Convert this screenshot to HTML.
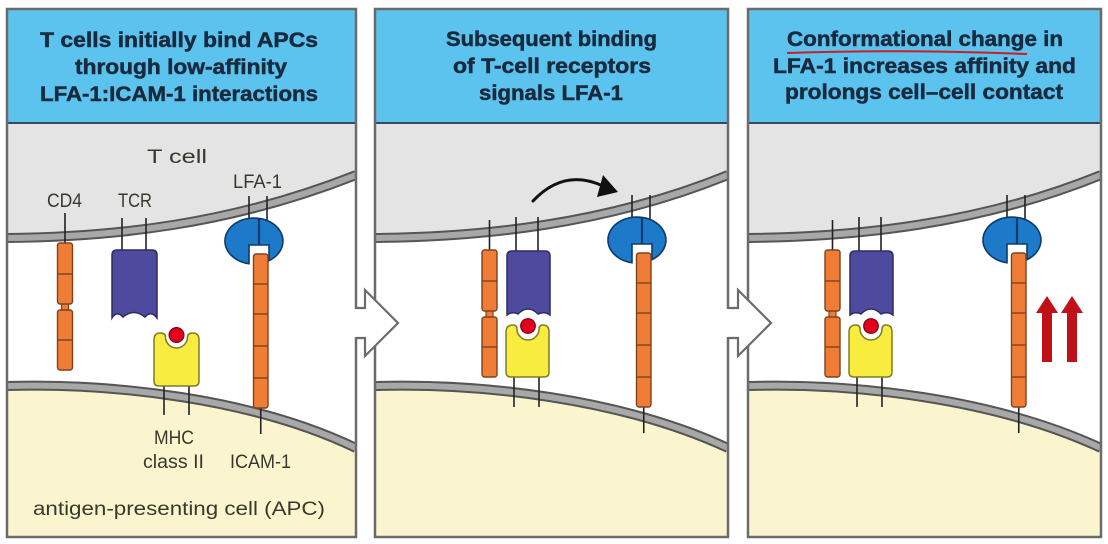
<!DOCTYPE html>
<html>
<head>
<meta charset="utf-8">
<style>
html,body{margin:0;padding:0;background:#fff;width:1108px;height:544px;overflow:hidden}
svg{display:block}
.h{font-family:"Liberation Sans",Arial,sans-serif;font-weight:bold;font-size:21px;fill:#182a3d;stroke:#182a3d;stroke-width:0.5}
.l{font-family:"Liberation Sans",Arial,sans-serif;font-size:19px;fill:#38382c}
</style>
</head>
<body>
<svg width="1108" height="544" viewBox="0 0 1108 544" xmlns="http://www.w3.org/2000/svg">
<defs>
  <clipPath id="c1"><rect x="7" y="9" width="349" height="528"/></clipPath>
  <clipPath id="c2"><rect x="375" y="9" width="353" height="528"/></clipPath>
  <clipPath id="c3"><rect x="748" y="9" width="353" height="528"/></clipPath>

  <g id="lfa">
    <line x1="24" y1="-22" x2="24" y2="4" stroke="#222" stroke-width="1.6"/>
    <line x1="42" y1="-22" x2="42" y2="4" stroke="#222" stroke-width="1.6"/>
    <path d="M24 45.7 A29 23 0 1 1 44 42.7 L44 27 L24 27 Z" fill="#1c7ac8" stroke="#0e3a6b" stroke-width="1.6"/>
    <line x1="34" y1="1" x2="34" y2="27" stroke="#0e3a6b" stroke-width="2.2"/>
    <line x1="35.75" y1="190" x2="35.75" y2="216" stroke="#222" stroke-width="1.6"/>
    <rect x="28.5" y="36" width="14.5" height="154" rx="2.5" fill="#f07d35" stroke="#7e4220" stroke-width="1.4"/>
    <g stroke="#7e4220" stroke-width="1.4">
      <line x1="28.5" y1="66" x2="43" y2="66"/>
      <line x1="28.5" y1="96" x2="43" y2="96"/>
      <line x1="28.5" y1="128" x2="43" y2="128"/>
      <line x1="28.5" y1="160" x2="43" y2="160"/>
    </g>
  </g>

  <g id="cd4">
    <line x1="7.5" y1="-30" x2="7.5" y2="0" stroke="#222" stroke-width="1.6"/>
    <rect x="4" y="58" width="7" height="12" fill="#f07d35" stroke="#7e4220" stroke-width="1.2"/>
    <rect x="0" y="0" width="15" height="61" rx="2.5" fill="#f07d35" stroke="#7e4220" stroke-width="1.4"/>
    <line x1="0" y1="31" x2="15" y2="31" stroke="#7e4220" stroke-width="1.4"/>
    <rect x="0" y="67" width="15" height="60" rx="2.5" fill="#f07d35" stroke="#7e4220" stroke-width="1.4"/>
    <line x1="0" y1="97" x2="15" y2="97" stroke="#7e4220" stroke-width="1.4"/>
  </g>

  <g id="bound">
    <line x1="516" y1="217" x2="516" y2="252" stroke="#222" stroke-width="1.6"/>
    <line x1="538" y1="217" x2="538" y2="252" stroke="#222" stroke-width="1.6"/>
    <line x1="514" y1="376" x2="514" y2="407" stroke="#222" stroke-width="1.6"/>
    <line x1="539" y1="376" x2="539" y2="407" stroke="#222" stroke-width="1.6"/>
    <path d="M507 315 L507 256 Q507 251 512 251 L545 251 Q550 251 550 256 L550 315 Q545 311 538 314 Q528 304 518 314 Q512 311 507 315 Z" fill="#4e4b9f" stroke="#2c2a60" stroke-width="1.5"/>
    <path d="M506 372 Q506 377 511 377 L544 377 Q549 377 549 372 L549 332 Q549 325 543 325 Q539 325 539 329 A11 11 0 0 1 517 329 Q517 325 513 325 Q506 325 506 332 Z" fill="#f8ec3e" stroke="#7d7a2a" stroke-width="1.5"/>
    <circle cx="528" cy="326" r="8.6" fill="#fff"/>
    <circle cx="528" cy="326" r="7.3" fill="#e3001b" stroke="#7a0010" stroke-width="1.2"/>
  </g>
</defs>

<!-- PANEL 1 -->
<g clip-path="url(#c1)">
  <rect x="7" y="9" width="349" height="528" fill="#fff"/>
  <path d="M7 123 L356 123 L356 175 C230 225 112 237 7 238 Z" fill="#e4e4e4"/>
  <path d="M7 386 C112 383 252 398 356 448 L356 537 L7 537 Z" fill="#fbf5cf"/>
  <path d="M7 238 C112 237 230 225 356 175" fill="none" stroke="#555" stroke-width="10"/>
  <path d="M7 238 C112 237 230 225 356 175" fill="none" stroke="#a8a8a8" stroke-width="6"/>
  <path d="M7 386 C112 383 252 398 356 448" fill="none" stroke="#555" stroke-width="10"/>
  <path d="M7 386 C112 383 252 398 356 448" fill="none" stroke="#a8a8a8" stroke-width="6"/>

  <use href="#cd4" transform="translate(57.5,243)"/>
  <line x1="122" y1="218" x2="122" y2="251" stroke="#222" stroke-width="1.6"/>
  <line x1="146" y1="218" x2="146" y2="251" stroke="#222" stroke-width="1.6"/>
  <path d="M112 318 L112 255 Q112 250 117 250 L152 250 Q157 250 157 255 L157 318 Q151 310 145 317 Q134 308 123 317 Q117 310 112 318 Z" fill="#4e4b9f" stroke="#2c2a60" stroke-width="1.5"/>
  <line x1="164" y1="385" x2="164" y2="415" stroke="#222" stroke-width="1.6"/>
  <line x1="189" y1="385" x2="189" y2="415" stroke="#222" stroke-width="1.6"/>
  <path d="M154 381 Q154 386 159 386 L194 386 Q199 386 199 381 L199 340 Q199 333 193 333 Q187.5 333 187.5 337 A11 11 0 0 1 165.5 337 Q165.5 333 160 333 Q154 333 154 340 Z" fill="#f8ec3e" stroke="#7d7a2a" stroke-width="1.5"/>
  <circle cx="176.5" cy="335" r="8.8" fill="#fff"/>
  <circle cx="176.5" cy="335" r="7.4" fill="#e3001b" stroke="#7a0010" stroke-width="1.2"/>

  <use href="#lfa" transform="translate(225,218)"/>

  <text class="l" x="147" y="163" textLength="60" lengthAdjust="spacingAndGlyphs" fill="#333">T cell</text>
  <text class="l" x="47" y="207" textLength="35" lengthAdjust="spacingAndGlyphs">CD4</text>
  <text class="l" x="118" y="207" textLength="34" lengthAdjust="spacingAndGlyphs">TCR</text>
  <text class="l" x="233" y="188" textLength="49" lengthAdjust="spacingAndGlyphs">LFA-1</text>
  <text class="l" x="154" y="444" textLength="40" lengthAdjust="spacingAndGlyphs">MHC</text>
  <text class="l" x="143" y="468" textLength="61" lengthAdjust="spacingAndGlyphs">class II</text>
  <text class="l" x="230" y="468" textLength="61" lengthAdjust="spacingAndGlyphs">ICAM-1</text>
  <text class="l" x="33" y="515" textLength="292" lengthAdjust="spacingAndGlyphs">antigen-presenting cell (APC)</text>

  <rect x="7" y="9" width="349" height="114" fill="#5cc3ef"/>
  <line x1="7" y1="123" x2="356" y2="123" stroke="#3a4a55" stroke-width="2"/>
  <text class="h" x="40" y="47" textLength="278" lengthAdjust="spacingAndGlyphs">T cells initially bind APCs</text>
  <text class="h" x="75" y="74" textLength="212" lengthAdjust="spacingAndGlyphs">through low-affinity</text>
  <text class="h" x="40" y="101" textLength="278" lengthAdjust="spacingAndGlyphs">LFA-1:ICAM-1 interactions</text>
</g>
<rect x="7" y="9" width="349" height="528" fill="none" stroke="#6b6b6b" stroke-width="2.5"/>

<!-- PANEL 2 -->
<g clip-path="url(#c2)">
  <rect x="375" y="9" width="353" height="528" fill="#fff"/>
  <path d="M375 123 L728 123 L728 175 C605 225 480 237 375 238 Z" fill="#e4e4e4"/>
  <path d="M375 386 C480 383 620 398 728 448 L728 537 L375 537 Z" fill="#fbf5cf"/>
  <path d="M375 238 C480 237 605 225 728 175" fill="none" stroke="#555" stroke-width="10"/>
  <path d="M375 238 C480 237 605 225 728 175" fill="none" stroke="#a8a8a8" stroke-width="6"/>
  <path d="M375 386 C480 383 620 398 728 448" fill="none" stroke="#555" stroke-width="10"/>
  <path d="M375 386 C480 383 620 398 728 448" fill="none" stroke="#a8a8a8" stroke-width="6"/>

  <use href="#cd4" transform="translate(482,250)"/>
  <use href="#bound"/>
  <use href="#lfa" transform="translate(608,217)"/>

  <path d="M533 201 Q564 168 603 186" fill="none" stroke="#111" stroke-width="3" stroke-linecap="round"/>
  <polygon points="603,175 618,192 597,197" fill="#111"/>

  <rect x="375" y="9" width="353" height="114" fill="#5cc3ef"/>
  <line x1="375" y1="123" x2="728" y2="123" stroke="#3a4a55" stroke-width="2"/>
  <text class="h" x="446" y="46" textLength="211" lengthAdjust="spacingAndGlyphs">Subsequent binding</text>
  <text class="h" x="453" y="73" textLength="198" lengthAdjust="spacingAndGlyphs">of T-cell receptors</text>
  <text class="h" x="479" y="100" textLength="144" lengthAdjust="spacingAndGlyphs">signals LFA-1</text>
</g>
<rect x="375" y="9" width="353" height="528" fill="none" stroke="#6b6b6b" stroke-width="2.5"/>

<!-- PANEL 3 -->
<g clip-path="url(#c3)">
  <rect x="748" y="9" width="353" height="528" fill="#fff"/>
  <path d="M748 123 L1101 123 L1101 175 C978 225 853 237 748 238 Z" fill="#e4e4e4"/>
  <path d="M748 386 C853 383 993 398 1101 448 L1101 537 L748 537 Z" fill="#fbf5cf"/>
  <path d="M748 238 C853 237 978 225 1101 175" fill="none" stroke="#555" stroke-width="10"/>
  <path d="M748 238 C853 237 978 225 1101 175" fill="none" stroke="#a8a8a8" stroke-width="6"/>
  <path d="M748 386 C853 383 993 398 1101 448" fill="none" stroke="#555" stroke-width="10"/>
  <path d="M748 386 C853 383 993 398 1101 448" fill="none" stroke="#a8a8a8" stroke-width="6"/>

  <use href="#cd4" transform="translate(825,250)"/>
  <use href="#bound" transform="translate(343,0)"/>
  <use href="#lfa" transform="translate(983,217)"/>

  <polygon points="1042,362 1042,313 1036,313 1047,296 1058,313 1052,313 1052,362" fill="#c0101a"/>
  <polygon points="1067,362 1067,313 1061,313 1072,296 1083,313 1077,313 1077,362" fill="#c0101a"/>

  <rect x="748" y="9" width="353" height="114" fill="#5cc3ef"/>
  <line x1="748" y1="123" x2="1101" y2="123" stroke="#3a4a55" stroke-width="2"/>
  <text class="h" x="787" y="46" textLength="276" lengthAdjust="spacingAndGlyphs">Conformational change in</text>
  <path d="M787 53 Q905 49 1027 54" fill="none" stroke="#c81e28" stroke-width="2"/>
  <text class="h" x="773" y="73" textLength="303" lengthAdjust="spacingAndGlyphs">LFA-1 increases affinity and</text>
  <text class="h" x="785" y="99" textLength="278" lengthAdjust="spacingAndGlyphs">prolongs cell–cell contact</text>
</g>
<rect x="748" y="9" width="353" height="528" fill="none" stroke="#6b6b6b" stroke-width="2.5"/>

<!-- between-panel arrows -->
<polygon points="353,309 365,309 365,290 398,323 365,356 365,337 353,337" fill="#fff"/>
<polyline points="356,308 365,308 365,290 398,323 365,356 365,338 356,338" fill="none" stroke="#6b6b6b" stroke-width="2.2" stroke-linejoin="miter"/>

<polygon points="726,309 738,309 738,290 771,323 738,356 738,337 726,337" fill="#fff"/>
<polyline points="728,308 738,308 738,290 771,323 738,356 738,338 728,338" fill="none" stroke="#6b6b6b" stroke-width="2.2" stroke-linejoin="miter"/>
</svg>
</body>
</html>
